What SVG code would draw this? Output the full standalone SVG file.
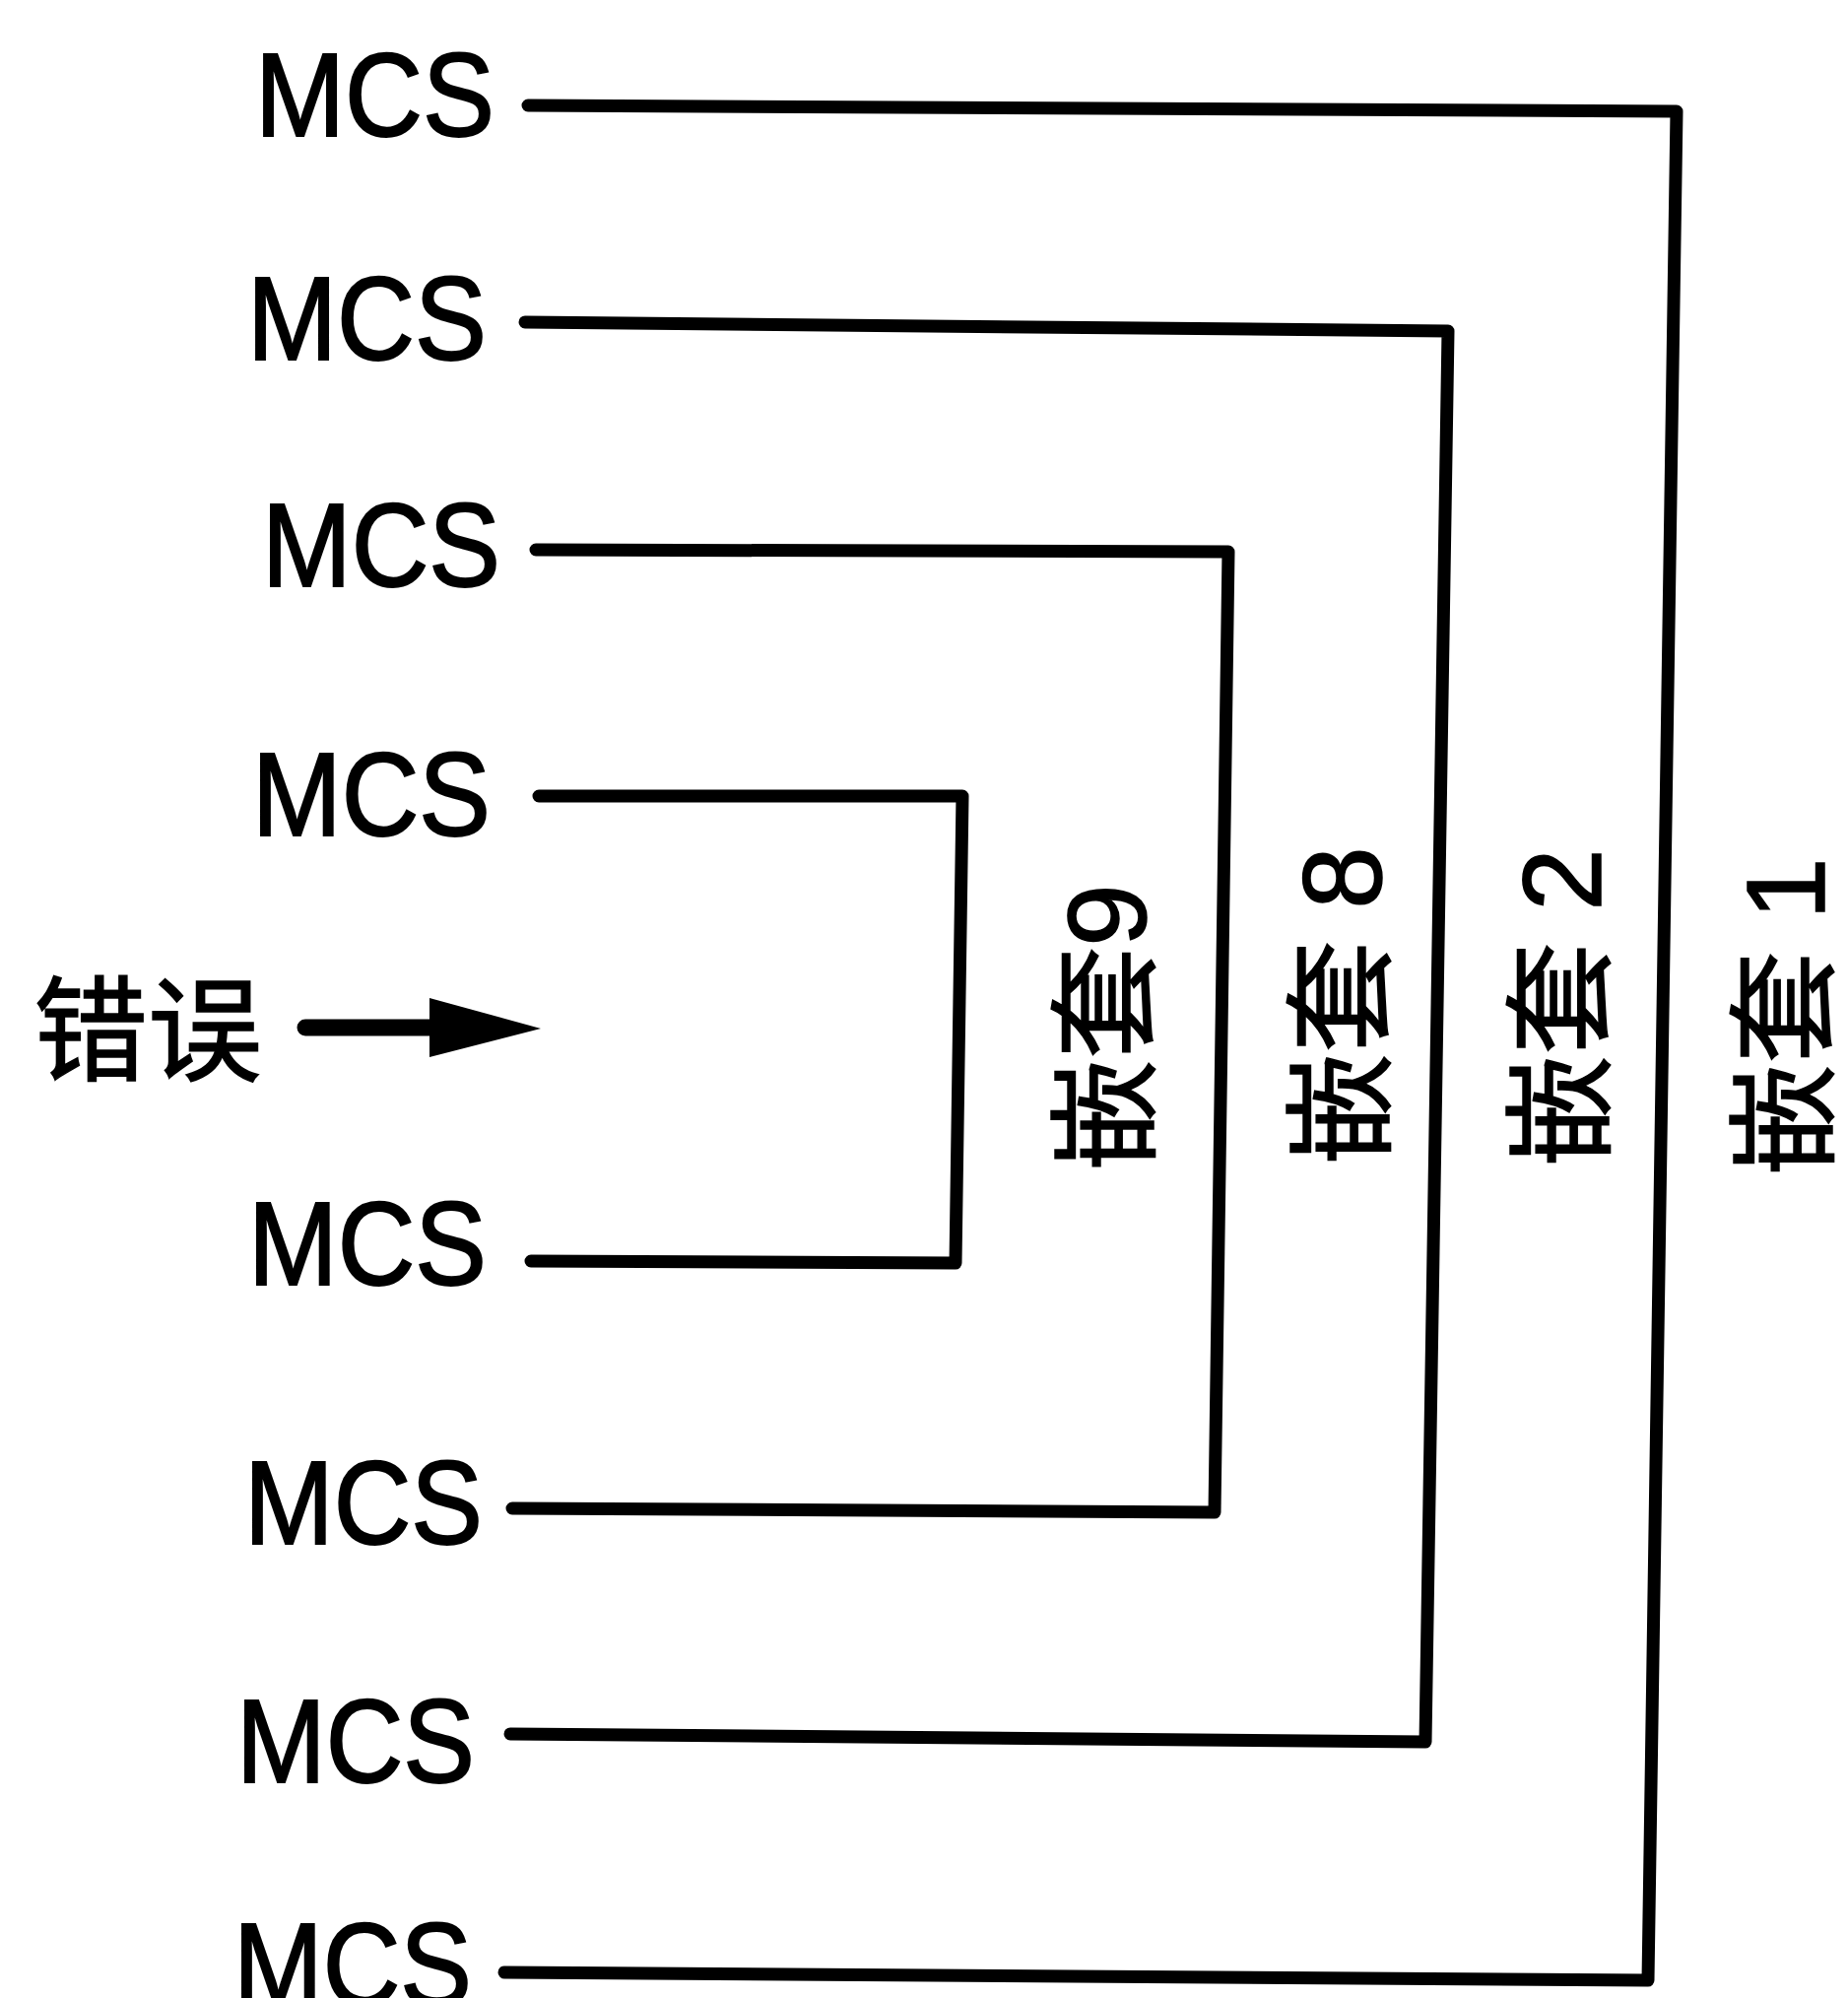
<svg xmlns="http://www.w3.org/2000/svg" width="1876" height="2028" viewBox="0 0 1876 2028">
<style>
.mcs{font-family:"Liberation Sans",Arial,sans-serif;font-size:120px;fill:#000;stroke:#000;stroke-width:2}
.cjk{font-family:"Noto Sans CJK SC","Liberation Sans",sans-serif;font-size:116px;fill:#000;stroke:#000;stroke-width:1.5}
.lbl{font-family:"Liberation Sans","Noto Sans CJK SC",sans-serif;font-size:114px;fill:#000;stroke:#000;stroke-width:1.5;text-anchor:middle;dominant-baseline:central}
.wire{fill:none;stroke:#000;stroke-width:13;stroke-linejoin:round;stroke-linecap:round}
</style>
<rect width="1876" height="2028" fill="#fff"/>
<g id="nodes">
<g id="mcs1"><text class="mcs" x="259" y="138" textLength="243" lengthAdjust="spacingAndGlyphs">MCS</text></g>
<g id="mcs2"><text class="mcs" x="251" y="365" textLength="243" lengthAdjust="spacingAndGlyphs">MCS</text></g>
<g id="mcs3"><text class="mcs" x="266" y="595" textLength="242" lengthAdjust="spacingAndGlyphs">MCS</text></g>
<g id="mcs4"><text class="mcs" x="256" y="848" textLength="242" lengthAdjust="spacingAndGlyphs">MCS</text></g>
<g id="mcs5"><text class="mcs" x="252" y="1304" textLength="242" lengthAdjust="spacingAndGlyphs">MCS</text></g>
<g id="mcs6"><text class="mcs" x="248" y="1567" textLength="242" lengthAdjust="spacingAndGlyphs">MCS</text></g>
<g id="mcs7"><text class="mcs" x="240" y="1809" textLength="242" lengthAdjust="spacingAndGlyphs">MCS</text></g>
<g id="mcs8"><text class="mcs" x="237" y="2036" textLength="242" lengthAdjust="spacingAndGlyphs">MCS</text></g>
<g id="error"><text class="cjk" x="34" y="1088">错误</text></g>
<g id="nest9"><text class="lbl" transform="translate(1123,1043) rotate(-90)">嵌套9</text></g>
<g id="nest8"><text class="lbl" transform="translate(1362,1021) rotate(-90)">嵌套 8</text></g>
<g id="nest2"><text class="lbl" transform="translate(1585,1023) rotate(-90)">嵌套 2</text></g>
<g id="nest1"><text class="lbl" transform="translate(1812,1032) rotate(-90)">嵌套 1</text></g>
</g>
<g id="connectors">
<path class="wire" d="M536,107 L1702,113 L1673,2010 L512,2002"/>
<path class="wire" d="M533,327 L1470,336 L1447,1768 L518,1760"/>
<path class="wire" d="M544,558 L1247,560 L1233,1535 L520,1531"/>
<path class="wire" d="M547,808 L977,808 L970,1282 L539,1280"/>
<line x1="310" y1="1043" x2="445" y2="1043" stroke="#000" stroke-width="17" stroke-linecap="round"/>
<polygon points="436,1013 549,1044 436,1073" fill="#000"/>
</g>
</svg>
